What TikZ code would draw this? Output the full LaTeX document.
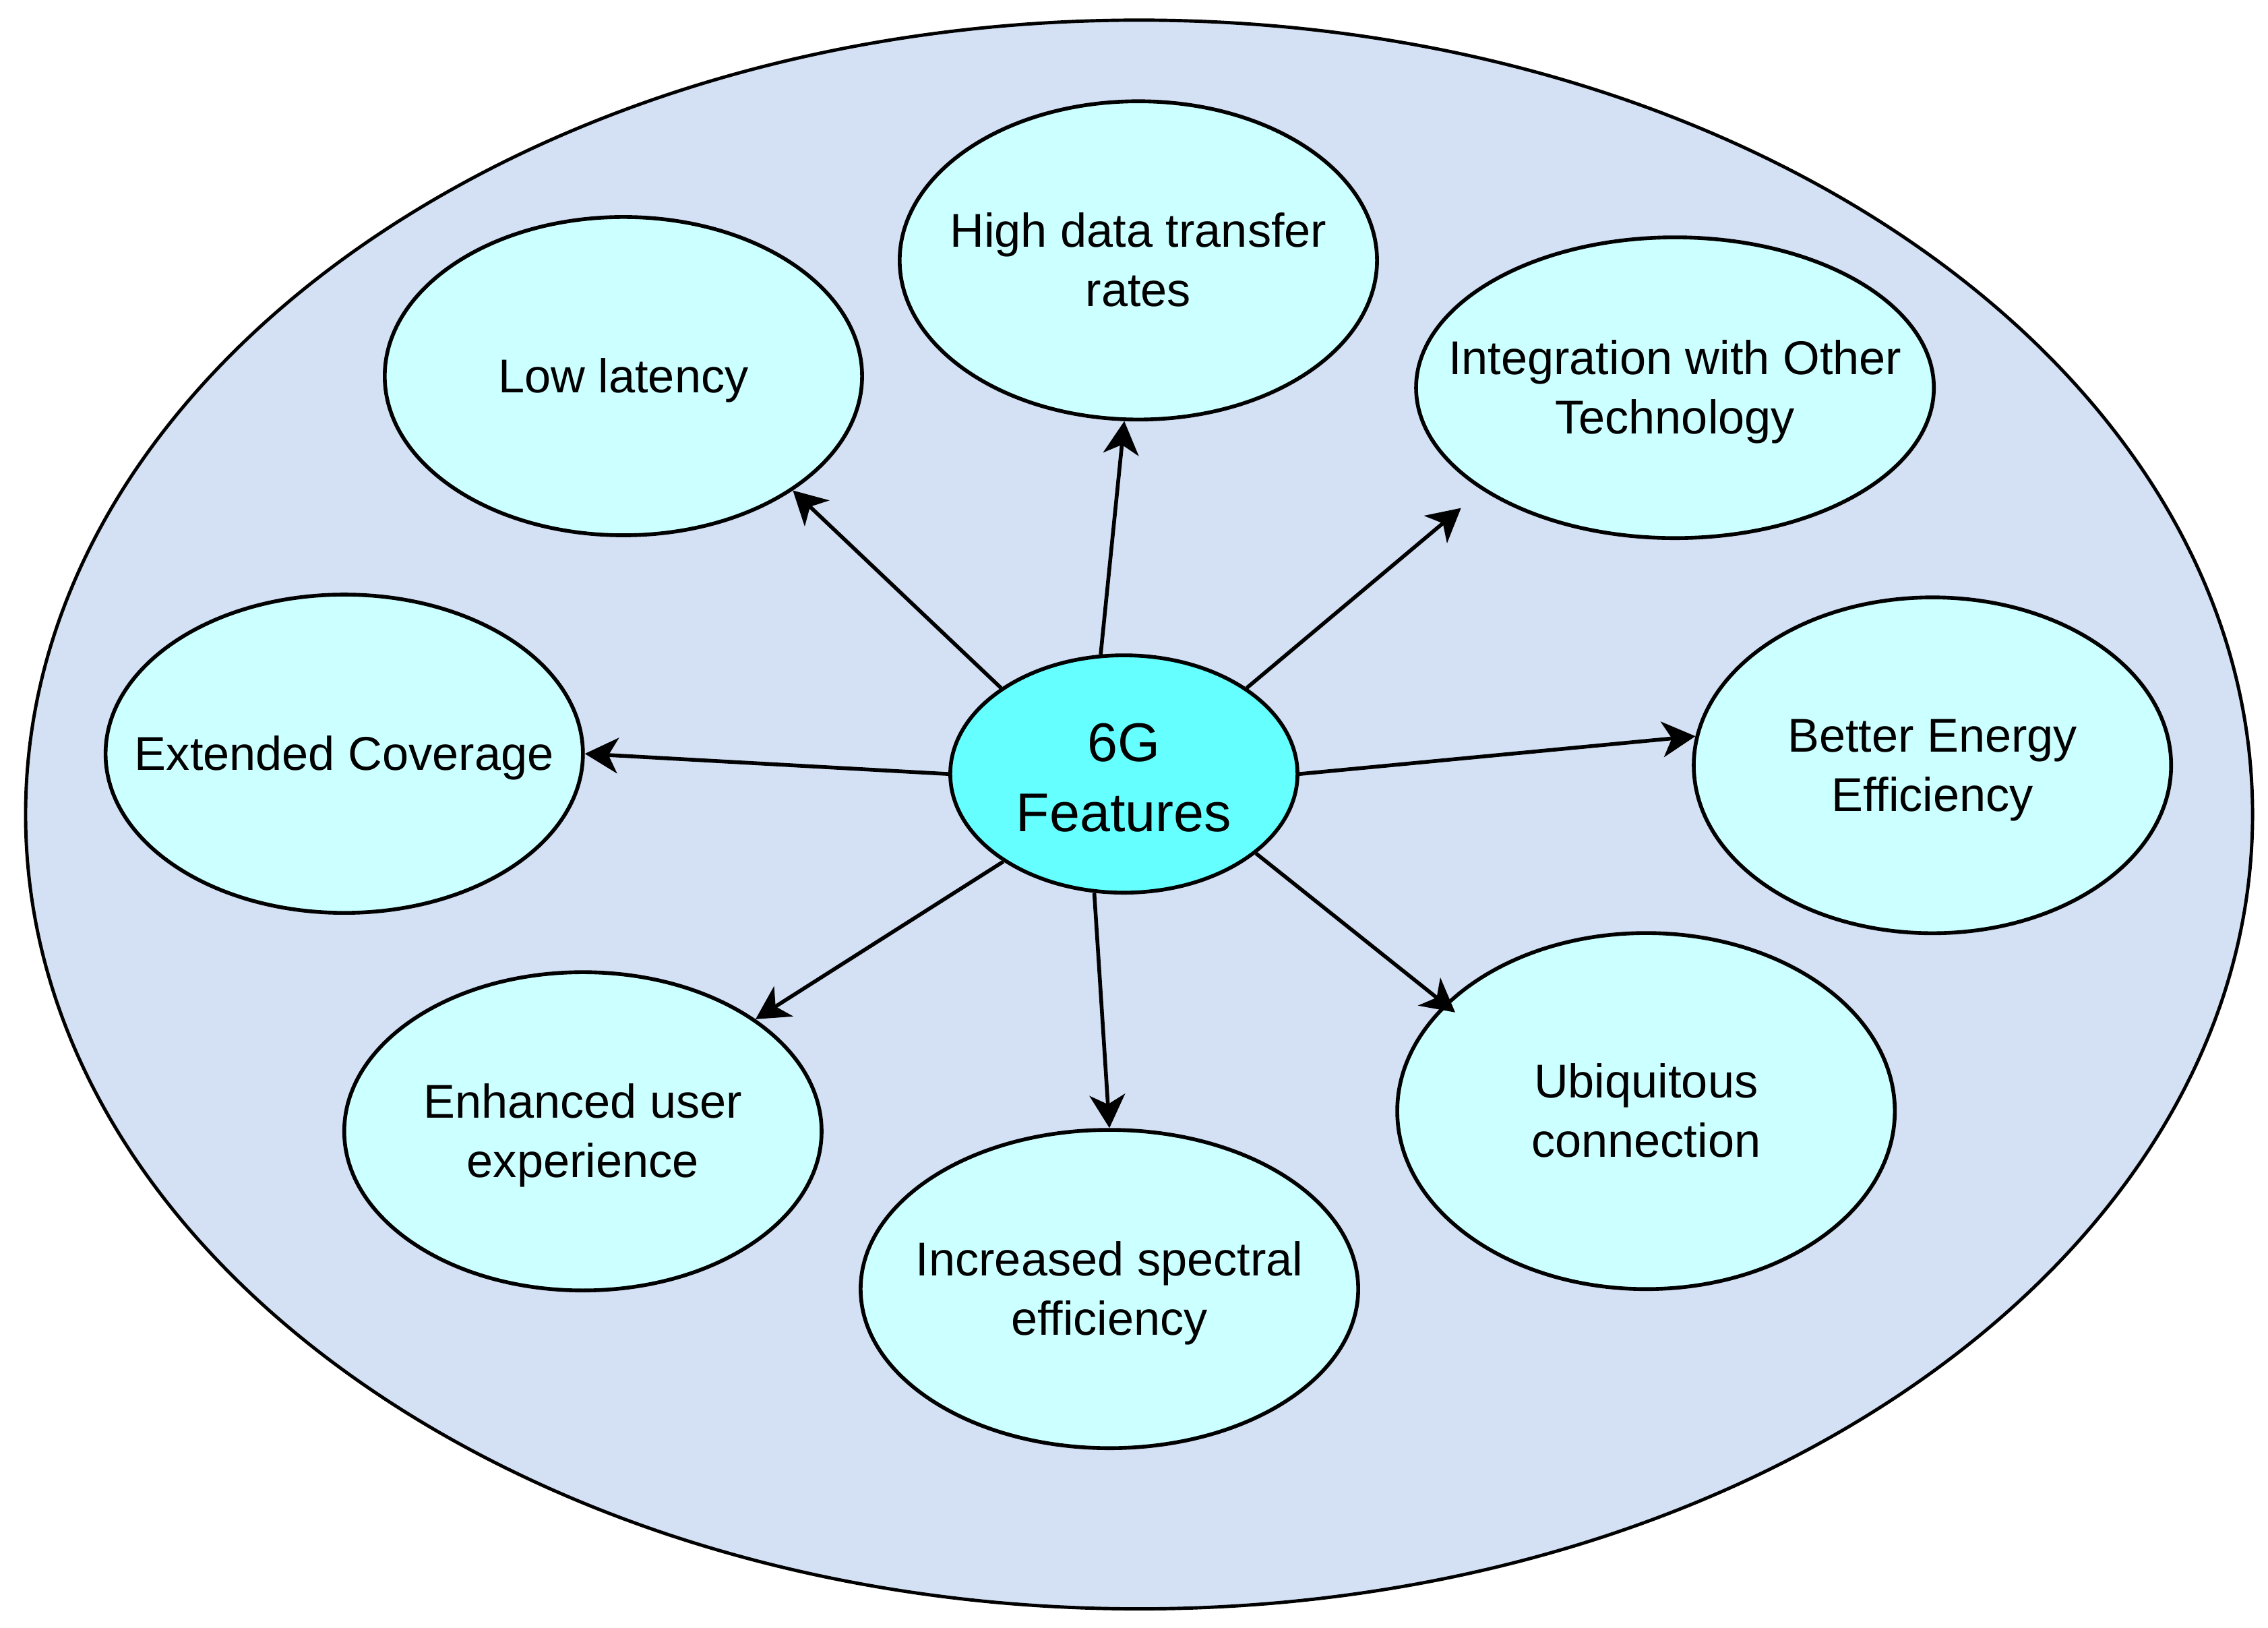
\documentclass[tikz,border=0pt]{standalone}
\usepackage{fontspec}
\setmainfont{Liberation Sans}
\usetikzlibrary{shapes.geometric,arrows.meta}
\definecolor{framefill}{HTML}{D4E1F5}
\definecolor{hubfill}{HTML}{66FFFF}
\definecolor{featfill}{HTML}{CCFFFF}
\newcommand{\feattext}[2][2pt]{\makebox[0pt]{\raisebox{-#1}[\height][\depth]{\begin{tabular}{@{}c@{}}#2\end{tabular}}}}

\begin{document}
\begin{tikzpicture}[x=0.02146cm,y=-0.02146cm,
		frame/.style={ellipse,draw,line width=1.4pt,fill=framefill,minimum width=33.03cm,minimum height=23.56cm},
		hub/.style={ellipse,draw,line width=1.6pt,fill=hubfill,inner sep=0pt,font=\fontsize{23}{29.5}\selectfont},
		feat/.style={ellipse,draw,line width=1.6pt,fill=featfill,inner sep=0pt,font=\fontsize{20}{25}\selectfont},
		arr/.style={line width=1.6pt,-{Stealth[length=14pt,width=15pt,inset=4pt]}}]
		\useasboundingbox (0,0) rectangle (1568,1125);
		\node[frame]													(bg)	at (787.5,563)	{};

		\node[hub,minimum width=5.15cm,minimum height=3.52cm]			(hub)	at (777,535)	{\feattext[3.5pt]{6G\\Features}};

		\node[feat,minimum width=7.08cm,minimum height=4.72cm]			(low)	at (431,260)	{\feattext{Low latency}};
		\node[feat,minimum width=7.08cm,minimum height=4.72cm]			(high)	at (787,180)	{\feattext{High data transfer\\rates}};
		\node[feat,minimum width=7.68cm,minimum height=4.46cm]			(integ)	at (1158,268)	{\feattext{Integration with Other\\Technology}};
		\node[feat,minimum width=7.08cm,minimum height=4.72cm]			(ext)	at (238,521)	{\feattext{Extended Coverage}};
		\node[feat,minimum width=7.08cm,minimum height=4.98cm]			(energy)	at (1336,529)	{\feattext{Better Energy\\Efficiency}};
		\node[feat,minimum width=7.08cm,minimum height=4.72cm]			(user)	at (403,782)	{\feattext{Enhanced user\\experience}};
		\node[feat,minimum width=7.38cm,minimum height=4.72cm]			(spec)	at (767,891)	{\feattext{Increased spectral\\efficiency}};
		\node[feat,minimum width=7.38cm,minimum height=5.28cm]			(ubiq)	at (1138,768)	{\feattext{Ubiquitous\\connection}};

		\draw[arr] (hub.145) -- (low.-34);
		\draw[arr] (hub.101) -- (high.265);
		\draw[arr,shorten >=0.41cm] (hub.35) -- (integ.208);
		\draw[arr] (hub.180) -- (ext.0);
		\draw[arr] (hub.0) -- (energy.173);
		\draw[arr] (hub.216) -- (user.33);
		\draw[arr] (hub.256) -- (spec.90);
		\draw[arr,shorten >=-0.2cm] (hub.329) -- (ubiq.152);
	\end{tikzpicture}
\end{document}
